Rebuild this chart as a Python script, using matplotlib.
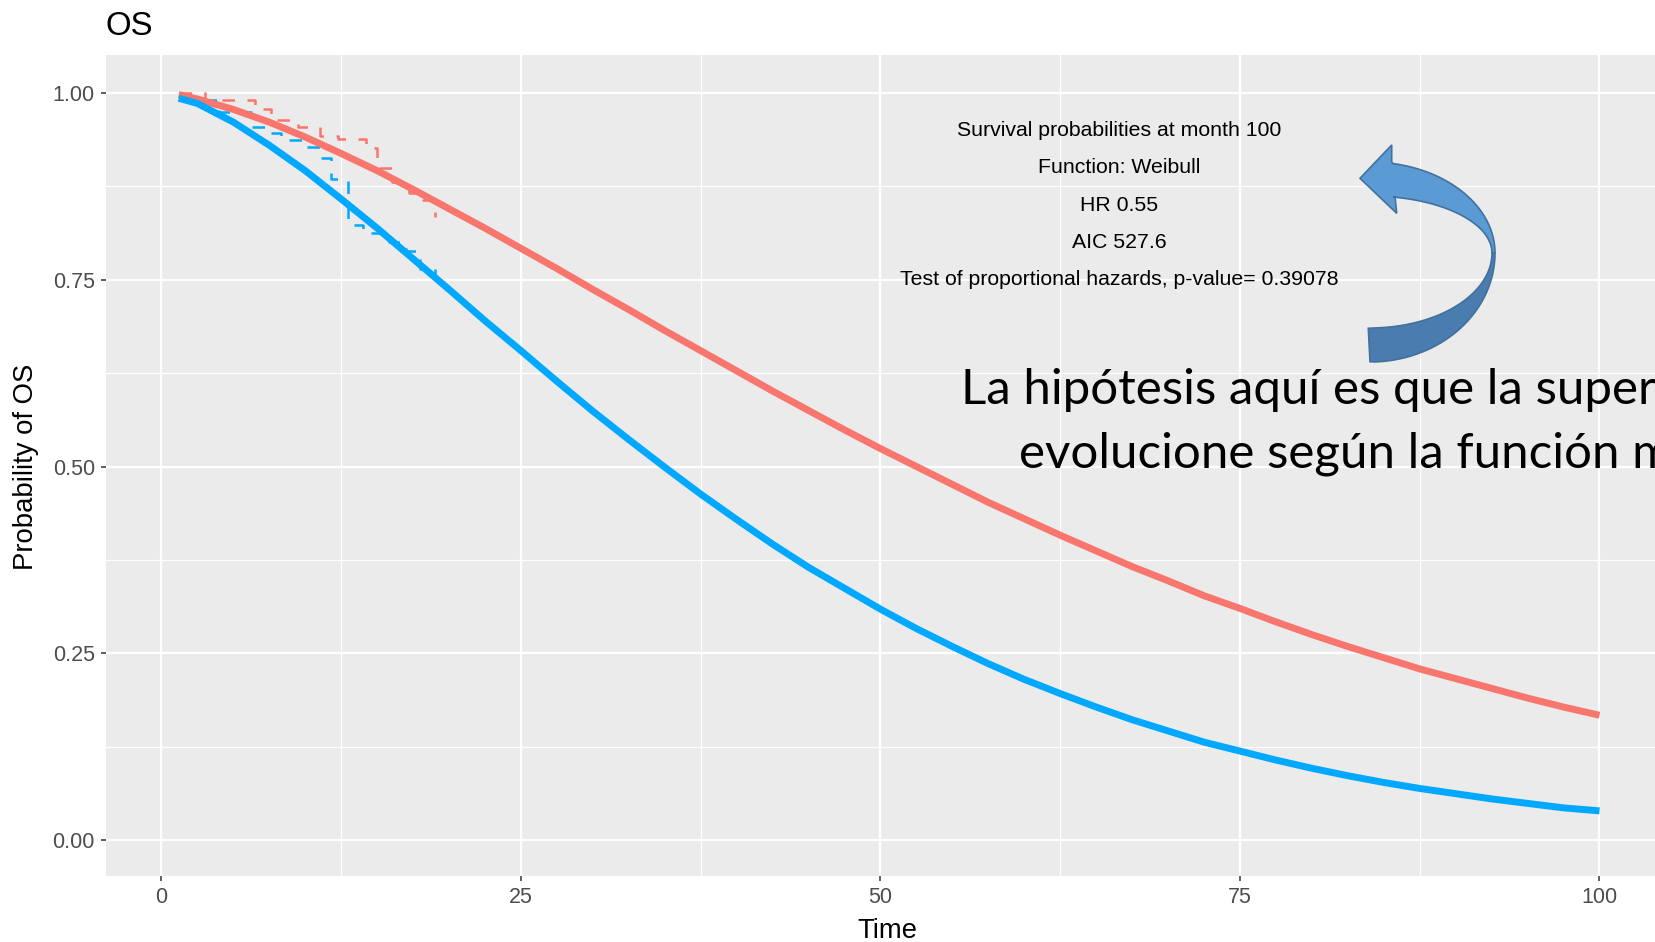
import numpy as np
import matplotlib
matplotlib.use('Agg')
import matplotlib.pyplot as plt
from matplotlib.patches import Polygon

# fitted Weibull curves
time_fit = [1.2, 2.5, 5, 7.5, 10, 12.5, 15, 17.5, 20, 22.5, 25, 27.5, 30, 32.5, 35, 37.5, 40,
            42.5, 45, 47.5, 50, 52.5, 55, 57.5, 60, 62.5, 65, 67.5, 70, 72.5, 75, 77.5, 80,
            82.5, 85, 87.5, 90, 92.5, 95, 97.5, 100]
os_red = [0.998, 0.992, 0.978, 0.961, 0.941, 0.919, 0.896, 0.871, 0.845, 0.819, 0.792, 0.765,
          0.737, 0.710, 0.682, 0.655, 0.628, 0.601, 0.575, 0.549, 0.524, 0.500, 0.476, 0.452,
          0.430, 0.408, 0.387, 0.366, 0.347, 0.327, 0.310, 0.292, 0.275, 0.259, 0.244, 0.229,
          0.216, 0.203, 0.190, 0.178, 0.167]
os_blue = [0.993, 0.986, 0.961, 0.930, 0.896, 0.858, 0.819, 0.778, 0.737, 0.695, 0.655, 0.614,
           0.574, 0.536, 0.499, 0.463, 0.429, 0.396, 0.365, 0.337, 0.309, 0.283, 0.259, 0.236,
           0.215, 0.196, 0.178, 0.161, 0.146, 0.131, 0.119, 0.107, 0.096, 0.086, 0.077, 0.069,
           0.062, 0.055, 0.049, 0.043, 0.039]

# Kaplan-Meier steps (dashed)
km_time_red = [1.2, 3.0, 6.5, 7.6, 9.5, 11.0, 12.3, 14.2, 15.0, 16.0, 17.2, 18.2, 19.0]
km_os_red = [1.0, 0.99, 0.979, 0.964, 0.955, 0.942, 0.939, 0.926, 0.899, 0.881, 0.866, 0.857, 0.834]
km_time_blue = [1.2, 4.0, 6.2, 7.2, 8.3, 10.0, 11.0, 11.8, 13.0, 14.0, 15.8, 17.0, 18.0, 19.0]
km_os_blue = [0.99, 0.975, 0.955, 0.946, 0.937, 0.928, 0.913, 0.885, 0.823, 0.813, 0.800, 0.788, 0.765, 0.755]

x_ticks = [0, 25, 50, 75, 100]
y_ticks = [0.0, 0.25, 0.5, 0.75, 1.0]

notes = ['Survival probabilities at month 100', 'Function: Weibull', 'HR 0.55',
         'AIC 527.6', 'Test of proportional hazards, p-value= 0.39078']
notes_y = [0.95, 0.90, 0.85, 0.80, 0.75]
notes_x = 66.6

overlay_lines = ['La hipótesis aquí es que la super', 'evolucione según la función m']

RED = '#F8766D'
BLUE = '#00A9FF'
W, H = 1655, 942


def px(x, y):
    # pixel (top-left origin) -> figure fraction
    return x / W, 1 - y / H


plt.rcParams['font.family'] = ['Liberation Sans', 'DejaVu Sans']

fig = plt.figure(figsize=(W / 100, H / 100), dpi=100)
l, b = px(105.5, 876)
r, t = px(1655, 55)
ax = fig.add_axes([l, b, r - l, t - b])
ax.set_facecolor('#EBEBEB')
for s in ax.spines.values():
    s.set_visible(False)

ax.set_xlim(-3.894, 103.86)
ax.set_ylim(-0.0482, 1.0509)

# grid
for v in [12.5, 37.5, 62.5, 87.5]:
    ax.axvline(v, color='white', lw=0.9, zorder=0)
for v in [0.125, 0.375, 0.625, 0.875]:
    ax.axhline(v, color='white', lw=0.9, zorder=0)
for v in x_ticks:
    ax.axvline(v, color='white', lw=1.6, zorder=0)
for v in y_ticks:
    ax.axhline(v, color='white', lw=1.6, zorder=0)

ax.step(km_time_red, km_os_red, where='post', color=RED, lw=1.8, ls=(0, (5, 5)), zorder=2)
ax.step(km_time_blue, km_os_blue, where='post', color=BLUE, lw=1.8, ls=(0, (5, 5)), zorder=2)
ax.plot(time_fit, os_red, color=RED, lw=5, solid_capstyle='butt', zorder=3)
ax.plot(time_fit, os_blue, color=BLUE, lw=5, solid_capstyle='butt', zorder=3)

ax.set_xticks(x_ticks)
ax.set_xticklabels([str(v) for v in x_ticks])
ax.set_yticks(y_ticks)
ax.set_yticklabels(['%.2f' % v for v in y_ticks])
ax.tick_params(length=3.6, width=1.1, color='#333333', labelcolor='#4D4D4D', labelsize=15.5)
ax.tick_params(axis='x', pad=4)
ax.tick_params(axis='y', pad=4)

for txt, yv in zip(notes, notes_y):
    ax.text(notes_x, yv, txt, ha='center', va='center', fontsize=15.3, color='black', zorder=4)

# titles
fig.text(*px(105.5, 35), 'OS', fontsize=23.8, ha='left', va='baseline')
fig.text(*px(887.7, 938), 'Time', fontsize=19.8, ha='center', va='baseline')
fig.text(*px(26, 467), 'Probability of OS', fontsize=19.8, rotation=90, ha='center', va='center')


# curved block arrow on top (slide overlay)
def arc(cx, cy, a, b, t0, t1, n=40):
    th = np.radians(np.linspace(t0, t1, n))
    return np.column_stack([cx + a * np.cos(th), cy - b * np.sin(th)])


cx, cy = 1370, 253
top_out = arc(cx, cy, 125, 91, 0, 79.5)
top_in = arc(cx, cy, 122, 57, 79, 0)
head = np.array([[1391.7, 161.7], [1391.7, 145], [1360, 178.3], [1396.7, 213.3], [1395, 196.7]])
top_face = np.vstack([top_out, head, top_in])
bot_out = arc(cx, cy, 125, -109, 0, 90)
bot_in = arc(cx, cy, 122, -75, 90, 0)
bot_out[-1] = [1370, 361.7]
bot_in[0] = [1368.3, 328.3]
bot_face = np.vstack([bot_out, bot_in])

for pts, col in [(bot_face, '#4A7CB0'), (top_face, '#5B9BD5')]:
    fx = pts[:, 0] / W
    fy = 1 - pts[:, 1] / H
    fig.patches.append(Polygon(np.column_stack([fx, fy]), closed=True, facecolor=col,
                               edgecolor='#41719C', lw=1.2, transform=fig.transFigure, zorder=5))

fig.text(*px(961, 404), overlay_lines[0], fontsize=35.5, family=['Lato', 'DejaVu Sans'],
         ha='left', va='baseline', zorder=6)
fig.text(*px(1019, 467), overlay_lines[1], fontsize=35.5, family=['Lato', 'DejaVu Sans'],
         ha='left', va='baseline', zorder=6)

fig.savefig('out.png', dpi=100)
